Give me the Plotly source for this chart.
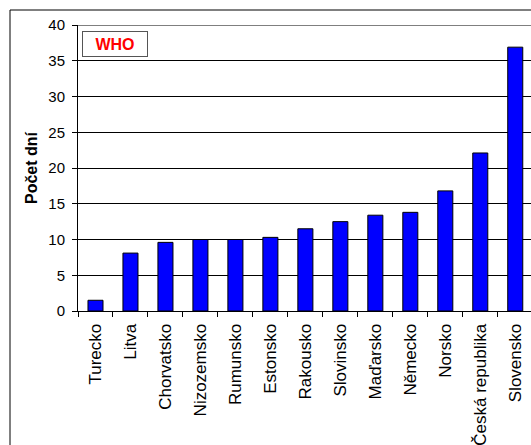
import plotly.graph_objects as go

categories = ["Turecko", "Litva", "Chorvatsko", "Nizozemsko", "Rumunsko", "Estonsko",
              "Rakousko", "Slovinsko", "Maďarsko", "Německo", "Norsko",
              "Česká republika", "Slovensko"]
values = [1.5, 8.1, 9.6, 10.0, 10.0, 10.3, 11.5, 12.5, 13.4, 13.8, 16.8, 22.1, 36.9]
y_ticks = [0, 5, 10, 15, 20, 25, 30, 35, 40]

FONT = "Liberation Sans, Arial, sans-serif"

fig = go.Figure(go.Bar(
    x=categories, y=values,
    marker=dict(color="#0000FF", line=dict(color="#000000", width=1)),
    width=0.43,
))

fig.update_layout(
    width=531, height=445,
    margin=dict(l=78, r=0, t=25, b=134),
    paper_bgcolor="white", plot_bgcolor="white",
    showlegend=False,
    font=dict(family=FONT, size=15, color="black"),
    bargap=0.57,
)
fig.update_xaxes(
    type="category", range=[-0.5, 12.45],
    tickangle=-90, ticks="outside", tickson="boundaries", ticklen=5,
    tickcolor="black", showline=True, linecolor="black", linewidth=1,
    showgrid=False, tickfont=dict(family=FONT, size=17),
    ticklabelstandoff=5,
)
fig.update_yaxes(
    range=[0, 40], tickvals=y_ticks, ticks="outside", ticklen=5, tickcolor="black",
    showline=True, linecolor="black", linewidth=1,
    showgrid=True, gridcolor="black", gridwidth=1, zeroline=False,
    title=dict(text="<b>Počet dní</b>", font=dict(family=FONT, size=16), standoff=6),
    tickfont=dict(family=FONT, size=15),
    ticklabelstandoff=4,
)

# outer chart border (extends beyond visible area)
fig.add_shape(type="rect", xref="paper", yref="paper",
              x0=-68/453, x1=1.2, y0=-0.6, y1=1 + 15/286,
              line=dict(color="black", width=1), fillcolor="rgba(0,0,0,0)", layer="below")
# top border of plot area
fig.add_shape(type="line", xref="paper", yref="y", x0=0, x1=1, y0=40, y1=40,
              line=dict(color="black", width=1))

fig.add_annotation(
    xref="paper", yref="paper", x=4/453, y=1 - 6/286, xanchor="left", yanchor="top",
    text="<b>WHO</b>", showarrow=False,
    font=dict(family=FONT, size=16, color="#FF0000"),
    bordercolor="#555555", borderwidth=1, borderpad=3, bgcolor="white",
    width=58, height=18,
)

fig.write_html("out.html")
